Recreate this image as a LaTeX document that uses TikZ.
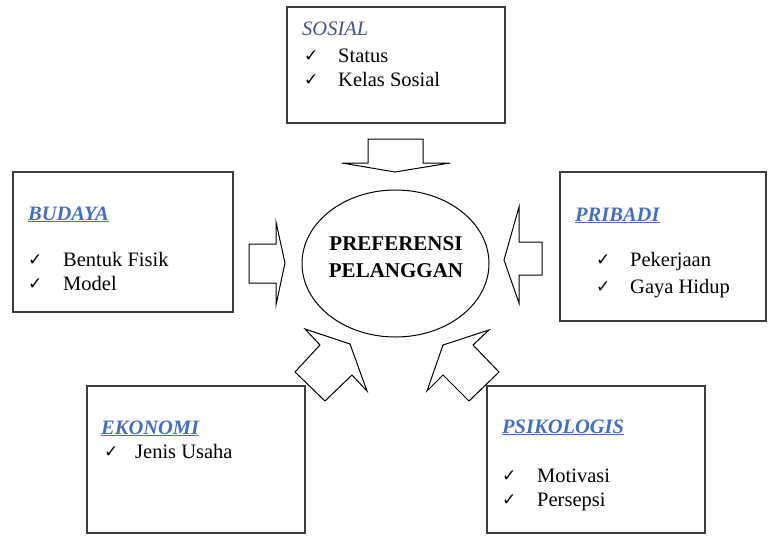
\documentclass[tikz,border=0pt]{standalone}
\usepackage{fontspec}
\setmainfont{Liberation Serif}
\newfontfamily\symfont{DejaVu Sans}
\usetikzlibrary{shapes.geometric}
\definecolor{slateblue}{RGB}{72,82,132}
\definecolor{headblue}{RGB}{70,110,190}
\definecolor{boxgray}{RGB}{60,60,60}
\tikzset{
  box/.style={draw=boxgray, line width=1.4pt, inner sep=0pt},
  txt/.style={anchor=base west, inner sep=0pt, font=\fontsize{20.5}{24}\selectfont},
  head/.style={txt, text=headblue, font=\fontsize{20.5}{24}\selectfont\bfseries\itshape},
  chk/.style={anchor=base west, inner sep=0pt, font=\symfont\fontsize{17}{19}\selectfont},
  blockarrow/.style={draw=black, line width=1pt, fill=white, line join=miter},
}
\newcommand{\ck}{✓}
\begin{document}
\begin{tikzpicture}[x=1pt,y=-1pt]
\useasboundingbox (0,0) rectangle (768,536);
% boxes
\node[box, minimum width=218pt, minimum height=116pt] (sos) at (396,65) {};
\node[box, minimum width=220pt, minimum height=140pt] (bud) at (123,242) {};
\node[box, minimum width=206pt, minimum height=149pt] (pri) at (663,246.5) {};
\node[box, minimum width=218pt, minimum height=147pt] (eko) at (196,459.5) {};
\node[box, minimum width=218pt, minimum height=147pt] (psi) at (596,459.5) {};
% ellipse
\node[ellipse, draw=black, line width=1pt, minimum width=187pt, minimum height=147pt, inner sep=0pt] (pref) at (395.5,263.5) {};
\node[anchor=base, inner sep=0pt, font=\fontsize{21}{25}\selectfont\bfseries] (p1) at (396,250) {PREFERENSI};
\node[anchor=base, inner sep=0pt, font=\fontsize{21}{25}\selectfont\bfseries] (p2) at (396,277) {PELANGGAN};
% SOSIAL
\node[txt, text=slateblue, font=\fontsize{20.5}{24}\selectfont\itshape] (sosh) at (302,35) {SOSIAL};
\node[chk] (c1) at (304,61) {\ck};
\node[txt] (s1) at (338,62) {Status};
\node[chk] (c2) at (304,85) {\ck};
\node[txt] (s2) at (338,86) {Kelas Sosial};
% BUDAYA
\node[head] (budh) at (28,220) {\underline{BUDAYA}};
\node[chk] (c3) at (28,265) {\ck};
\node[txt] (b1) at (63,266) {Bentuk Fisik};
\node[chk] (c4) at (28,289) {\ck};
\node[txt] (b2) at (63,290) {Model};
% PRIBADI
\node[head] (prih) at (575,221) {\underline{PRIBADI}};
\node[chk] (c5) at (596,265) {\ck};
\node[txt] (r1) at (630,266) {Pekerjaan};
\node[chk] (c6) at (596,292) {\ck};
\node[txt] (r2) at (630,293) {Gaya Hidup};
% EKONOMI
\node[head] (ekoh) at (101,434) {\underline{EKONOMI}};
\node[chk] (c7) at (104,457) {\ck};
\node[txt] (e1) at (135,458) {Jenis Usaha};
% PSIKOLOGIS
\node[head] (psih) at (502,433) {\underline{PSIKOLOGIS}};
\node[chk] (c8) at (502,481) {\ck};
\node[txt] (k1) at (537,482) {Motivasi};
\node[chk] (c9) at (502,505) {\ck};
\node[txt] (k2) at (537,506) {Persepsi};
% block arrows
\draw[blockarrow] (368,139) -- (423,139) -- (423,163) -- (450,163) -- (395,172) -- (342,163) -- (368,163) -- cycle;
\draw[blockarrow] (249,244) -- (276,244) -- (276,222) -- (285,263) -- (276,305) -- (276,283) -- (249,283) -- cycle;
\draw[blockarrow] (542,242) -- (519,242) -- (519,207) -- (504,260) -- (519,303) -- (519,275) -- (542,275) -- cycle;
\draw[blockarrow] (305,329) -- (350,344) -- (367,391) -- (352,375) -- (325,401) -- (295,372) -- (320,345) -- cycle;
\draw[blockarrow] (489,330) -- (443,345) -- (427,391) -- (443,375) -- (469,401) -- (499,372) -- (473,345) -- cycle;
\end{tikzpicture}
\end{document}
